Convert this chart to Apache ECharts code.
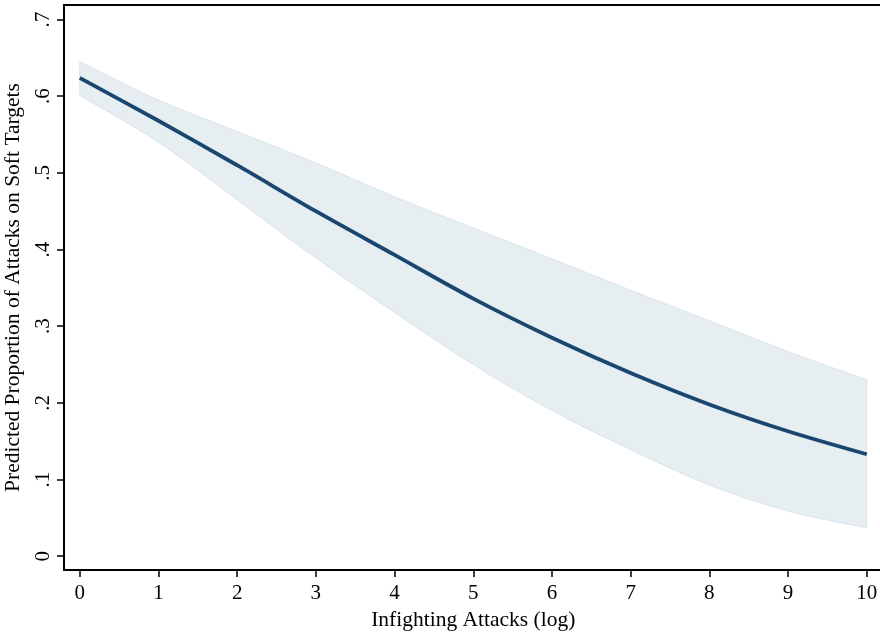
<!DOCTYPE html>
<html>
<head>
<meta charset="utf-8">
<script src="https://cdn.jsdelivr.net/npm/echarts@6/dist/echarts.min.js"></script>
<style>html,body{margin:0;padding:0;background:#fff}#c{width:880px;height:638px}</style>
</head>
<body>
<div id="c"></div>
<script>
var xValues = [0, 1, 2, 3, 4, 5, 6, 7, 8, 9, 10];
var predicted = [0.624, 0.568, 0.510, 0.450, 0.393, 0.336, 0.285, 0.239, 0.198, 0.163, 0.133];
var upperCI = [0.645, 0.595, 0.554, 0.513, 0.469, 0.428, 0.388, 0.347, 0.307, 0.267, 0.230];
var lowerCI = [0.601, 0.540, 0.465, 0.389, 0.318, 0.250, 0.190, 0.139, 0.093, 0.059, 0.037];
var xTicks = [0, 1, 2, 3, 4, 5, 6, 7, 8, 9, 10];
var yTicks = [0, 0.1, 0.2, 0.3, 0.4, 0.5, 0.6, 0.7];
var yTickLabels = ['0', '.1', '.2', '.3', '.4', '.5', '.6', '.7'];
var xTitle = 'Infighting Attacks (log)';
var yTitle = 'Predicted Proportion of Attacks on Soft Targets';

var font = 'Liberation Serif';
var chart = echarts.init(document.getElementById('c'), null, {renderer: 'canvas'});

var meanData = xValues.map(function (x, i) { return [x, predicted[i]]; });
var bandData = xValues.map(function (x, i) { return [x, lowerCI[i], upperCI[i]]; });

// Catmull-Rom -> cubic bezier path segment through pixel points
function splinePath(pts, moveFirst) {
  var t = 0.35, d = '';
  if (moveFirst) d += 'M' + pts[0][0] + ' ' + pts[0][1];
  else d += 'L' + pts[0][0] + ' ' + pts[0][1];
  for (var i = 0; i < pts.length - 1; i++) {
    var p0 = pts[i - 1] || pts[i], p1 = pts[i], p2 = pts[i + 1], p3 = pts[i + 2] || pts[i + 1];
    var c1x = p1[0] + (p2[0] - p0[0]) * t / 2, c1y = p1[1] + (p2[1] - p0[1]) * t / 2;
    var c2x = p2[0] - (p3[0] - p1[0]) * t / 2, c2y = p2[1] - (p3[1] - p1[1]) * t / 2;
    d += 'C' + c1x + ' ' + c1y + ' ' + c2x + ' ' + c2y + ' ' + p2[0] + ' ' + p2[1];
  }
  return d;
}

function renderBand(params, api) {
  if (params.dataIndex !== 0) return null;
  var up = [], lo = [];
  for (var i = 0; i < bandData.length; i++) {
    up.push(api.coord([bandData[i][0], bandData[i][2]]));
    lo.push(api.coord([bandData[i][0], bandData[i][1]]));
  }
  lo.reverse();
  var d = splinePath(up, true) + splinePath(lo, false) + 'Z';
  return {
    type: 'path',
    shape: {pathData: d},
    style: {fill: '#e6eef2', stroke: '#d9e5ec', lineWidth: 1}
  };
}

chart.setOption({
  animation: false,
  backgroundColor: '#ffffff',
  grid: {left: 64, right: -2.5, top: 5, bottom: 68, containLabel: false, outerBoundsMode: 'none'},
  xAxis: [{
    type: 'value', min: -0.2, max: 10.2,
    name: xTitle, nameLocation: 'middle', nameGap: 39,
    nameTextStyle: {fontFamily: font, fontSize: 21.5, color: '#000'},
    axisLine: {show: true, onZero: false, lineStyle: {color: '#000', width: 2}},
    axisTick: {show: true, length: 7, customValues: xTicks, lineStyle: {color: '#000', width: 1.5}},
    axisLabel: {customValues: xTicks, fontFamily: font, fontSize: 21, color: '#000', margin: 13},
    splitLine: {show: false}
  }, {
    type: 'value', min: -0.2, max: 10.2, position: 'top',
    axisLine: {show: true, onZero: false, lineStyle: {color: '#000', width: 2}},
    axisTick: {show: false}, axisLabel: {show: false}, splitLine: {show: false}
  }],
  yAxis: {
    type: 'value', min: -0.018, max: 0.719,
    name: yTitle, nameLocation: 'middle', nameGap: 40, nameRotate: 90,
    nameTextStyle: {fontFamily: font, fontSize: 21.5, color: '#000'},
    axisLine: {show: true, onZero: false, lineStyle: {color: '#000', width: 2}},
    axisTick: {show: true, length: 7, customValues: yTicks, lineStyle: {color: '#000', width: 1.5}},
    axisLabel: {
      customValues: yTicks, rotate: 90, fontFamily: font, fontSize: 21, color: '#000', margin: 10,
      formatter: function (v) {
        for (var i = 0; i < yTicks.length; i++) { if (Math.abs(yTicks[i] - v) < 1e-6) return yTickLabels[i]; }
        return '';
      }
    },
    splitLine: {show: false}
  },
  series: [{
    type: 'custom', data: bandData, renderItem: renderBand, z: 1,
    encode: {x: 0, y: [1, 2]}, silent: true
  }, {
    type: 'line', data: meanData, smooth: 0.3, symbol: 'none',
    lineStyle: {color: '#1a476f', width: 3.8}, z: 3
  }]
});
</script>
</body>
</html>
